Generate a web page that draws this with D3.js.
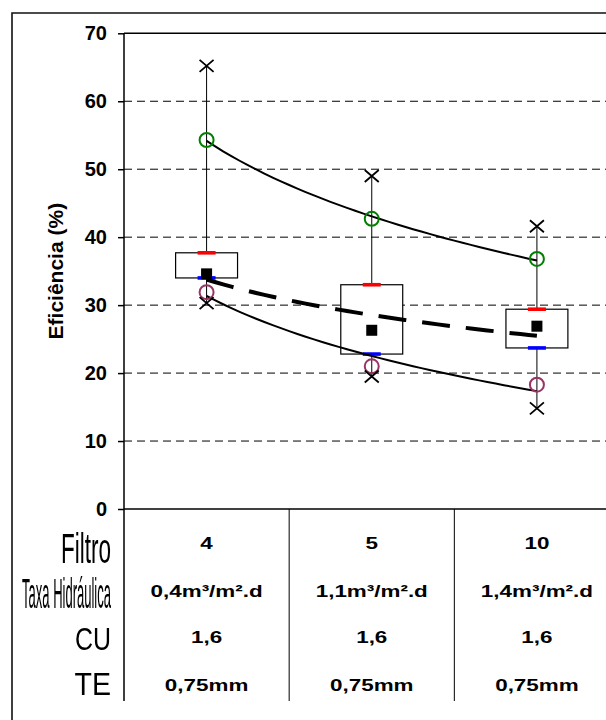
<!DOCTYPE html>
<html>
<head>
<meta charset="utf-8">
<script src="https://cdn.jsdelivr.net/npm/d3@7"></script>
<style>
  html, body { margin: 0; padding: 0; background: #fff; overflow: hidden; }
  svg { display: block; }
  text { font-family: "Liberation Sans", Arial, sans-serif; }
</style>
</head>
<body>
<script>
// ---- data ----
const filtros        = ["4", "5", "10"];
const taxaHidraulica = ["0,4m³/m².d", "1,1m³/m².d", "1,4m³/m².d"];
const cu             = ["1,6", "1,6", "1,6"];
const te             = ["0,75mm", "0,75mm", "0,75mm"];

const maxima  = [65.2, 49.0, 41.6];   // X above
const p90     = [54.3, 42.7, 36.8];   // green circle
const q3      = [37.7, 33.0, 29.4];   // box top (red)
const media   = [34.6, 26.3, 26.9];   // black square
const q1      = [34.0, 22.8, 23.7];   // box bottom (blue)
const p10     = [31.9, 21.0, 18.3];   // purple circle
const minima  = [30.3, 19.5, 14.8];   // X below

const yTicks = [0, 10, 20, 30, 40, 50, 60, 70];
const rowHeads = ["Filtro", "Taxa Hidráulica", "CU", "TE"];
const rowValues = [filtros, taxaHidraulica, cu, te];

// ---- layout ----
const W = 606, H = 720;
const plot = { left: 124, right: 619.5, top: 33.3, bottom: 509 };
const tableBottom = 701;
const headLayout = [
  { size: 42, len: 50,   base: 563 },
  { size: 42, len: 89,   base: 608 },
  { size: 32, len: 36,   base: 650 },
  { size: 32, len: 36.5, base: 695 }
];
const valueBase = [549, 597, 643, 691];

const svg = d3.select("body").append("svg")
  .attr("width", W).attr("height", H);

svg.append("rect").attr("width", W).attr("height", H).attr("fill", "#fff");

// greyscale filter for the squeezed header lettering
svg.append("defs").append("filter").attr("id", "grey")
  .append("feColorMatrix").attr("type", "saturate").attr("values", 0);

// outer chart frame (runs past the right and bottom edges)
svg.append("path")
  .attr("d", `M${W + 5},13H12V${H + 5}`)
  .attr("fill", "none").attr("stroke", "#111").attr("stroke-width", 1.6);

const y = d3.scaleLinear().domain([0, 70]).range([plot.bottom, plot.top]);
const x = d3.scaleBand().domain(filtros).range([plot.left, plot.right]);
const cx = d => x(d) + x.bandwidth() / 2;
const xLin = d3.scaleLinear().domain([1, filtros.length])
  .range([cx(filtros[0]), cx(filtros[filtros.length - 1])]);

// gridlines
svg.append("g").selectAll("line")
  .data(yTicks.filter(t => t > 0 && t < 70))
  .join("line")
  .attr("x1", plot.left).attr("x2", plot.right)
  .attr("y1", d => y(d)).attr("y2", d => y(d))
  .attr("stroke", "#000").attr("stroke-width", 1)
  .attr("stroke-dasharray", "8,5");

// plot border (top)
svg.append("line")
  .attr("x1", plot.left).attr("x2", plot.right)
  .attr("y1", plot.top).attr("y2", plot.top)
  .attr("stroke", "#000").attr("stroke-width", 1.5);

// y axis
const yAxis = d3.axisLeft(y).tickValues(yTicks).tickSize(6).tickPadding(11);
const gy = svg.append("g")
  .attr("transform", `translate(${plot.left},0)`)
  .call(yAxis);
gy.attr("font-family", null).attr("font-size", null);
gy.select(".domain").remove();
gy.selectAll(".tick line").attr("stroke", "#000").attr("stroke-width", 1.5);
gy.selectAll(".tick text")
  .style("font-family", "'Liberation Sans', Arial, sans-serif")
  .style("font-size", "20px").style("font-weight", "bold").attr("fill", "#000");

// axis lines (the left one continues down through the table)
svg.append("line")
  .attr("x1", plot.left).attr("x2", plot.left)
  .attr("y1", plot.top).attr("y2", tableBottom)
  .attr("stroke", "#000").attr("stroke-width", 1.5);
svg.append("line")
  .attr("x1", plot.left).attr("x2", plot.right)
  .attr("y1", plot.bottom).attr("y2", plot.bottom)
  .attr("stroke", "#000").attr("stroke-width", 1.5);

// y axis title
svg.append("text")
  .attr("transform", `translate(63,${(plot.top + plot.bottom) / 2}) rotate(-90)`)
  .attr("text-anchor", "middle")
  .style("font-size", "21px").style("font-weight", "bold")
  .text("Eficiência (%)");

// ---- box plots ----
const idx = d3.range(filtros.length);
const boxW = x.bandwidth() * 0.375;

// whiskers
const gW = svg.append("g").attr("stroke", "#000").attr("stroke-width", 1);
gW.selectAll(".up").data(idx).join("line")
  .attr("x1", i => cx(filtros[i])).attr("x2", i => cx(filtros[i]))
  .attr("y1", i => y(maxima[i])).attr("y2", i => y(q3[i]));
gW.selectAll(".dn").data(idx).join("line")
  .attr("x1", i => cx(filtros[i])).attr("x2", i => cx(filtros[i]))
  .attr("y1", i => y(q1[i])).attr("y2", i => y(minima[i]));

// boxes
svg.append("g").selectAll("rect").data(idx).join("rect")
  .attr("x", i => cx(filtros[i]) - boxW / 2)
  .attr("width", boxW)
  .attr("y", i => y(q3[i]))
  .attr("height", i => y(q1[i]) - y(q3[i]))
  .attr("fill", "#fff").attr("stroke", "#000").attr("stroke-width", 1.2);

// quartile markers
const markW = 18, markH = 3.6;
svg.append("g").selectAll("rect").data(idx).join("rect")
  .attr("x", i => cx(filtros[i]) - markW / 2).attr("width", markW)
  .attr("y", i => y(q3[i]) - markH / 2).attr("height", markH)
  .attr("fill", "#ff0000");
svg.append("g").selectAll("rect").data(idx).join("rect")
  .attr("x", i => cx(filtros[i]) - markW / 2).attr("width", markW)
  .attr("y", i => y(q1[i]) - markH / 2).attr("height", markH)
  .attr("fill", "#0000ff");

// logarithmic trendlines (least squares y = a + b ln x, x = 1..n)
function logFit(vals) {
  const lx = vals.map((_, i) => Math.log(i + 1));
  const mx = d3.mean(lx), my = d3.mean(vals);
  const sxy = d3.sum(vals, (v, i) => (lx[i] - mx) * (v - my));
  const sxx = d3.sum(lx, l => (l - mx) * (l - mx));
  const b = sxy / sxx;
  return { a: my - b * mx, b };
}
const xs = d3.range(1, filtros.length + 0.0001, 0.05);
const trendLine = d3.line().x(d => xLin(d[0])).y(d => y(d[1]));
function trend(vals) {
  const f = logFit(vals);
  return xs.map(t => [t, f.a + f.b * Math.log(t)]);
}
svg.append("path").attr("d", trendLine(trend(p90)))
  .attr("fill", "none").attr("stroke", "#000").attr("stroke-width", 2);
svg.append("path").attr("d", trendLine(trend(p10)))
  .attr("fill", "none").attr("stroke", "#000").attr("stroke-width", 2);
svg.append("path").attr("d", trendLine(trend(media)))
  .attr("fill", "none").attr("stroke", "#000").attr("stroke-width", 4)
  .attr("stroke-dasharray", "28,16");

// percentile circles
svg.append("g").selectAll("circle").data(idx).join("circle")
  .attr("cx", i => cx(filtros[i])).attr("cy", i => y(p90[i])).attr("r", 7)
  .attr("fill", "none").attr("stroke", "#008000").attr("stroke-width", 2);
svg.append("g").selectAll("circle").data(idx).join("circle")
  .attr("cx", i => cx(filtros[i])).attr("cy", i => y(p10[i])).attr("r", 7)
  .attr("fill", "none").attr("stroke", "#993366").attr("stroke-width", 2);

// mean squares
const sq = 11;
svg.append("g").selectAll("rect").data(idx).join("rect")
  .attr("x", i => cx(filtros[i]) - sq / 2).attr("y", i => y(media[i]) - sq / 2)
  .attr("width", sq).attr("height", sq).attr("fill", "#000");

// extreme X markers
const xPath = (px, py) => `M${px - 7},${py - 6}L${px + 7},${py + 6}M${px - 7},${py + 6}L${px + 7},${py - 6}`;
const gX = svg.append("g").attr("stroke", "#000").attr("stroke-width", 1.8).attr("fill", "none");
gX.selectAll(".mx").data(idx).join("path").attr("d", i => xPath(cx(filtros[i]), y(maxima[i])));
gX.selectAll(".mn").data(idx).join("path").attr("d", i => xPath(cx(filtros[i]), y(minima[i])));

// ---- data table under the axis ----
const dividers = [x(filtros[1]), x(filtros[2]), plot.right];
svg.append("g").selectAll("line").data(dividers).join("line")
  .attr("x1", d => d).attr("x2", d => d)
  .attr("y1", plot.bottom).attr("y2", tableBottom)
  .attr("stroke", "#000").attr("stroke-width", 1);

// row headers: narrow, tall lettering squeezed to fit the header column
svg.append("g").attr("filter", "url(#grey)")
  .selectAll("text").data(rowHeads).join("text")
  .attr("text-anchor", "end")
  .style("font-size", (d, i) => headLayout[i].size + "px")
  .attr("fill", "#000")
  .text(d => d)
  .each(function (d, i) {
    const L = headLayout[i];
    const natural = this.getComputedTextLength();
    const sx = L.len / natural;
    d3.select(this).attr("transform", `translate(111,${L.base}) scale(${sx},1)`);
  });

// cell values
rowValues.forEach((row, r) => {
  svg.append("g").selectAll("text").data(row).join("text")
    .attr("transform", (d, i) => `translate(${cx(filtros[i])},${valueBase[r]}) scale(1.32,1)`)
    .attr("text-anchor", "middle")
    .style("font-size", "17px").style("font-weight", "bold")
    .attr("fill", "#000")
    .text(d => d);
});
</script>
</body>
</html>
